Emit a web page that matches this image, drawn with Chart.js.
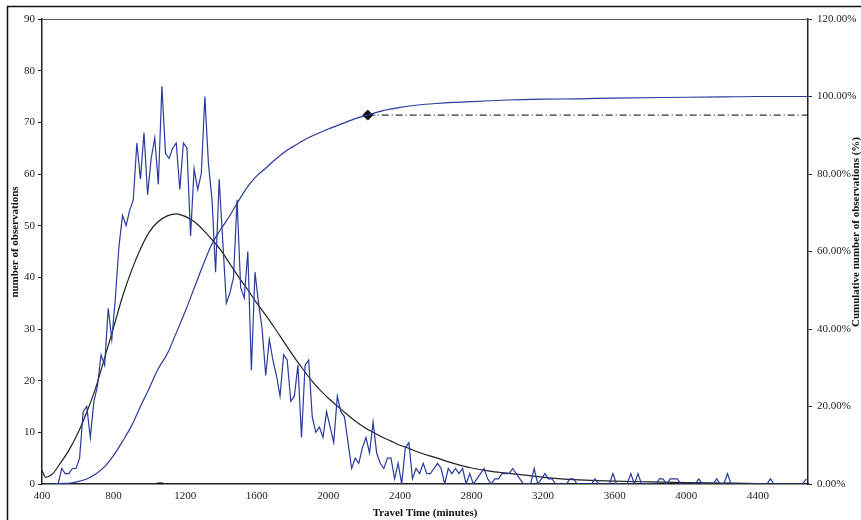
<!DOCTYPE html>
<html>
<head>
<meta charset="utf-8">
<script src="https://cdn.jsdelivr.net/npm/chart.js@4/dist/chart.umd.min.js"></script>
<style>
  html, body { margin: 0; padding: 0; background: #fff; }
  #chart { display: block; }
</style>
</head>
<body>
<canvas id="chart" width="861" height="520"></canvas>
<script>
// ---- data ----
// observations per 20-minute travel-time bin, first bin centred at 410 min
const binStart = 410;
const binWidth = 20;
const histCounts = [
  0, 0, 0, 0, 0, 3, 2, 2, 3, 3,
  5, 14, 15, 9, 16, 19, 25, 23, 34, 28,
  36, 46, 52, 50, 53, 55, 66, 59, 68, 56,
  63, 67, 58, 77, 64, 63, 65, 66, 57, 66,
  65, 48, 61, 57, 60, 75, 62, 55, 41, 59,
  47, 35, 37, 40, 55, 38, 36, 45, 22, 41,
  35, 30, 21, 28, 24, 21, 17, 25, 24, 16,
  17, 23, 9, 23, 24, 13, 10, 11, 9, 14,
  11, 8, 17, 14, 13, 8, 3, 5, 4, 7,
  9, 6, 12, 6, 4, 3, 5, 5, 1, 4,
  0, 7, 8, 1, 3, 2, 4, 2, 2, 3,
  4, 3, 0, 3, 2, 3, 2, 3, 0, 2,
  0, 1, 2, 3, 1, 0, 1, 1, 2, 2,
  2, 3, 2, 1, 0, 0, 0, 3, 0, 1,
  2, 1, 1, 0, 0, 0, 0, 1, 1, 0,
  0, 0, 0, 0, 1, 0, 0, 0, 0, 2,
  0, 0, 0, 0, 2, 0, 2, 0, 0, 0,
  0, 0, 1, 1, 0, 1, 1, 1, 0, 0,
  0, 0, 0, 1, 0, 0, 0, 0, 1, 0,
  0, 2, 0, 0, 0, 0, 0, 0, 0, 0,
  0, 0, 0, 1, 0, 0, 0, 0, 0, 0,
  0, 0, 0, 1
];
const binCentres = histCounts.map((_, i) => binStart + i * binWidth);

// fitted distribution (black curve)
const fitX = [400, 420, 440, 460, 500, 550, 600, 650, 700, 750, 800, 850, 900, 950,
  1000, 1050, 1100, 1150, 1200, 1250, 1300, 1350, 1400, 1450, 1500, 1550, 1600,
  1650, 1700, 1750, 1800, 1850, 1900, 1950, 2000, 2050, 2100, 2150, 2200, 2250,
  2300, 2350, 2400, 2450, 2500, 2600, 2700, 2800, 2900, 3000, 3100, 3200, 3300,
  3400, 3500, 3600, 3800, 4000, 4200, 4400, 4680];
const fitY = [2.6, 1.3, 1.5, 2.0, 3.9, 6.5, 9.8, 13.9, 18.6, 24.4, 30.3, 36.3, 41.3, 45.5,
  48.8, 50.8, 51.9, 52.3, 51.8, 50.8, 49.2, 47.3, 45.2, 42.6, 40.0, 37.6, 35.0,
  32.7, 30.2, 27.6, 25.0, 22.6, 20.3, 18.3, 16.6, 15.1, 13.6, 12.2, 11.0, 10.0,
  9.1, 8.3, 7.5, 6.9, 6.2, 5.1, 4.0, 3.1, 2.5, 2.1, 1.7, 1.3, 1.0,
  0.8, 0.65, 0.55, 0.4, 0.26, 0.18, 0.1, 0.05];

// cumulative share of observations (%)
const cumX = [480, 500, 550, 600, 650, 700, 750, 800, 850, 900, 950, 1000, 1050, 1100,
  1150, 1200, 1250, 1300, 1350, 1400, 1450, 1500, 1550, 1600, 1650, 1700, 1750,
  1800, 1850, 1900, 2000, 2100, 2150, 2220, 2300, 2400, 2500, 2600, 2700, 2800,
  2900, 3000, 3200, 3400, 3600, 4000, 4200, 4400, 4680];
const cumPct = [0, 0.1, 0.2, 0.6, 1.3, 2.6, 4.5, 7.4, 11.0, 15.0, 20.0, 24.8, 29.8, 33.6,
  39.0, 44.5, 50.5, 56.5, 62.0, 65.8, 69.3, 73.2, 76.8, 79.5, 81.5, 83.6, 85.5,
  87.0, 88.4, 89.6, 91.6, 93.4, 94.3, 95.2, 96.3, 97.2, 97.8, 98.2, 98.5, 98.7,
  98.9, 99.1, 99.3, 99.4, 99.6, 99.8, 99.9, 100, 100];

// 95th percentile marker and its reference line
const p95Time = 2220;
const p95Pct = 95.2;
const xMax = 4680;

// small mark sitting on the x axis
const axisMarkTime = 1060;

const xTickValues = [400, 800, 1200, 1600, 2000, 2400, 2800, 3200, 3600, 4000, 4400];

const serif = "'Liberation Serif', 'Times New Roman', serif";
const blue = '#2b3a9e';
const ink = '#222';

// ---- borders and rotated titles ----
const frame = {
  id: 'frame',
  afterDraw(chart) {
    const { ctx, chartArea: a } = chart;
    ctx.save();
    // outer chart border
    ctx.strokeStyle = '#111';
    ctx.lineWidth = 1.5;
    ctx.strokeRect(7.5, 6.5, 900, 600);
    // top edge of the plot area
    ctx.strokeStyle = '#555';
    ctx.lineWidth = 1;
    ctx.beginPath();
    ctx.moveTo(a.left, a.top + 0.5);
    ctx.lineTo(a.right, a.top + 0.5);
    ctx.stroke();

    ctx.fillStyle = '#111';
    ctx.font = 'bold 11px ' + serif;
    ctx.textAlign = 'center';
    ctx.textBaseline = 'middle';
    ctx.fillText('Travel Time (minutes)', (a.left + a.right) / 2, 513);

    ctx.save();
    ctx.translate(15, 242);
    ctx.rotate(-Math.PI / 2);
    ctx.fillText('number of observations', 0, 0);
    ctx.restore();

    ctx.save();
    ctx.translate(856, 232);
    ctx.rotate(-Math.PI / 2);
    ctx.fillText('Cumulative number of observations (%)', 0, 0);
    ctx.restore();
    ctx.restore();
  }
};

const tickFont = { family: serif, size: 11 };

new Chart(document.getElementById('chart'), {
  type: 'line',
  data: {
    datasets: [
      {
        label: 'observations',
        data: binCentres.map((x, i) => ({ x: x, y: histCounts[i] })),
        yAxisID: 'y',
        borderColor: blue,
        borderWidth: 1.2,
        pointRadius: 0,
        tension: 0
      },
      {
        label: 'fit',
        data: fitX.map((x, i) => ({ x: x, y: fitY[i] })),
        yAxisID: 'y',
        borderColor: ink,
        borderWidth: 1.2,
        pointRadius: 0,
        cubicInterpolationMode: 'monotone'
      },
      {
        label: 'cumulative',
        data: cumX.map((x, i) => ({ x: x, y: cumPct[i] })),
        yAxisID: 'y1',
        borderColor: blue,
        borderWidth: 1.2,
        pointRadius: 0,
        cubicInterpolationMode: 'monotone'
      },
      {
        label: '95%',
        data: [{ x: p95Time, y: p95Pct }, { x: xMax, y: p95Pct }],
        yAxisID: 'y1',
        borderColor: '#000',
        borderWidth: 1,
        borderDash: [7, 3, 1, 3],
        pointRadius: [5, 0],
        pointStyle: 'rectRot',
        pointBackgroundColor: '#111',
        pointBorderColor: '#111'
      },
      {
        label: 'mark',
        data: [{ x: axisMarkTime, y: 0 }],
        yAxisID: 'y',
        showLine: false,
        pointStyle: 'line',
        pointRadius: 3,
        pointBorderWidth: 3,
        pointBorderColor: '#000'
      }
    ]
  },
  options: {
    responsive: false,
    animation: false,
    devicePixelRatio: 1,
    layout: { padding: { top: 19, left: 0, right: 0, bottom: 0 } },
    plugins: {
      legend: { display: false },
      tooltip: { enabled: false }
    },
    scales: {
      x: {
        type: 'linear',
        min: 400,
        max: xMax,
        afterBuildTicks: s => { s.ticks = xTickValues.map(v => ({ value: v })); },
        afterFit: s => { s.height = 36; },
        ticks: {
          font: tickFont,
          color: ink,
          padding: 6,
          maxRotation: 0,
          autoSkip: false,
          callback: v => String(v)
        },
        grid: { drawOnChartArea: false, drawTicks: false },
        border: { color: ink, width: 1.5 }
      },
      y: {
        position: 'left',
        min: 0,
        max: 90,
        afterFit: s => { s.width = 42; },
        ticks: { stepSize: 10, font: tickFont, color: ink, padding: 3 },
        grid: { drawOnChartArea: false, drawTicks: true, tickLength: 4, color: ink },
        border: { color: ink, width: 1.5 }
      },
      y1: {
        position: 'right',
        min: 0,
        max: 120,
        afterFit: s => { s.width = 53; },
        ticks: {
          stepSize: 20,
          font: tickFont,
          color: ink,
          padding: 5,
          callback: v => v.toFixed(2) + '%'
        },
        grid: { drawOnChartArea: false, drawTicks: true, tickLength: 4, color: ink },
        border: { color: ink, width: 1.5 }
      }
    }
  },
  plugins: [frame]
});
</script>
</body>
</html>
